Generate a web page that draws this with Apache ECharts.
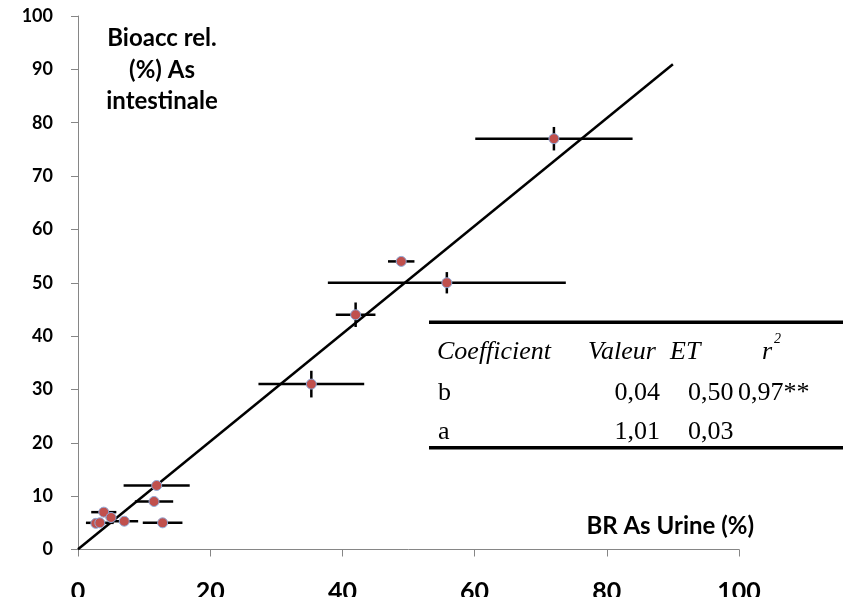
<!DOCTYPE html>
<html>
<head>
<meta charset="utf-8">
<script src="https://cdn.jsdelivr.net/npm/echarts@6/dist/echarts.min.js"></script>
<style>html,body{margin:0;padding:0;background:#fff}#c{width:843px;height:597px}</style>
</head>
<body>
<div id="c"></div>
<script>
// Data
const xValues = [72.0, 48.9, 55.8, 42.0, 35.3, 11.9, 11.5, 3.9, 5.0, 7.0, 2.7, 3.3, 12.8];
const yValues = [77, 54, 50, 44, 31, 12, 9, 7, 6, 5.3, 4.9, 5, 5];
const xErrors = [11.9, 2.0, 18.0, 3.0, 8.0, 5.0, 2.9, 1.9, 0.8, 2.1, 0.6, 2.1, 3.0];
const yErrors = [2.2, 0.6, 2.0, 2.3, 2.5, 0.6, 0.6, 0.6, 0.6, 0.6, 0.6, 0.6, 0.6];
const regIntercept = 0.04, regSlope = 1.01, regXmax = 90;
const xTicks = [0, 20, 40, 60, 80, 100];
const yTicks = [0, 10, 20, 30, 40, 50, 60, 70, 80, 90, 100];
const yTitleLines = ['Bioacc rel.', '(%) As', 'intestinale'];
const xTitle = 'BR As Urine (%)';
const tableHeader = ['Coefficient', 'Valeur', 'ET', 'r', '2'];
const tableRowB = ['b', '0,04', '0,50', '0,97**'];
const tableRowA = ['a', '1,01', '0,03'];

const pts = xValues.map((x, i) => [x, yValues[i], xErrors[i], yErrors[i]]);
const regLine = [[0, regIntercept], [regXmax, regIntercept + regSlope * regXmax]];

const chart = echarts.init(document.getElementById('c'));
const serif = '"Liberation Serif"';
const tFont = 26;
function txt(x, y, s, italic, align) {
  return {type: 'text', x: x, y: y, style: {text: s, font: (italic ? 'italic ' : '') + tFont + 'px ' + serif, fill: '#000', textVerticalAlign: 'middle', textAlign: align || 'left'}};
}
function btxt(x, y, s, align) {
  return {type: 'text', x: x, y: y, style: {text: s, font: 'bold 24px Lato', fill: '#000', textAlign: align || 'center', textVerticalAlign: 'middle'}};
}
chart.setOption({
  animation: false,
  backgroundColor: '#fff',
  grid: {left: 78, right: 104, top: 16, bottom: 47.5, containLabel: false, outerBoundsMode: 'none'},
  xAxis: {
    type: 'value', min: 0, max: 100, interval: 20,
    axisLine: {show: true, lineStyle: {color: '#868686', width: 1}},
    axisTick: {show: true, inside: false, length: 7, lineStyle: {color: '#868686'}},
    axisLabel: {margin: 30, fontFamily: 'Lato', fontWeight: 'bold', fontSize: 25, color: '#000',
      formatter: v => xTicks.includes(v) ? String(v) : ''},
    splitLine: {show: false}
  },
  yAxis: {
    type: 'value', min: 0, max: 100, interval: 10,
    axisLine: {show: true, lineStyle: {color: '#868686', width: 1}},
    axisTick: {show: true, inside: false, length: 7, lineStyle: {color: '#868686'}},
    axisLabel: {margin: 25, fontFamily: 'Lato', fontWeight: 'bold', fontSize: 18, color: '#000',
      formatter: v => yTicks.includes(v) ? String(v) : ''},
    splitLine: {show: false}
  },
  series: [
    {
      type: 'custom',
      data: pts,
      z: 2,
      renderItem: function (params, api) {
        const x = api.value(0), y = api.value(1), ex = api.value(2), ey = api.value(3);
        const l = api.coord([x - ex, y]), r = api.coord([x + ex, y]);
        const t = api.coord([x, y + ey]), b = api.coord([x, y - ey]);
        const st = {stroke: '#000', lineWidth: 2.5};
        return {type: 'group', children: [
          {type: 'line', shape: {x1: l[0], y1: l[1], x2: r[0], y2: r[1]}, style: st},
          {type: 'line', shape: {x1: t[0], y1: t[1], x2: b[0], y2: b[1]}, style: st}
        ]};
      }
    },
    {
      type: 'line', data: regLine, symbol: 'none', z: 3,
      lineStyle: {color: '#000', width: 2.5}
    },
    {
      type: 'scatter', data: pts.map(p => [p[0], p[1]]), z: 4,
      symbol: 'circle', symbolSize: 10,
      itemStyle: {color: '#C0504D', borderColor: '#8EA9D8', borderWidth: 1, opacity: 1}
    }
  ],
  graphic: [
    btxt(162, 38, yTitleLines[0]),
    btxt(162, 70, yTitleLines[1]),
    btxt(162, 101, yTitleLines[2]),
    btxt(754, 526, xTitle, 'right'),
    {type: 'rect', shape: {x: 429, y: 320.5, width: 420, height: 3.5}, style: {fill: '#000'}},
    {type: 'rect', shape: {x: 429, y: 446, width: 420, height: 3.5}, style: {fill: '#000'}},
    txt(437, 352, tableHeader[0], true),
    txt(588, 352, tableHeader[1], true),
    txt(670, 352, tableHeader[2], true),
    txt(762, 352, tableHeader[3], true),
    {type: 'text', x: 774, y: 339, style: {text: tableHeader[4], font: 'italic 14px ' + serif, fill: '#000', textVerticalAlign: 'middle'}},
    txt(438, 393, tableRowB[0]),
    txt(660, 393, tableRowB[1], false, 'right'),
    txt(688, 393, tableRowB[2]),
    txt(738, 393, tableRowB[3]),
    txt(438, 432, tableRowA[0]),
    txt(660, 432, tableRowA[1], false, 'right'),
    txt(688, 432, tableRowA[2])
  ]
});
</script>
</body>
</html>
